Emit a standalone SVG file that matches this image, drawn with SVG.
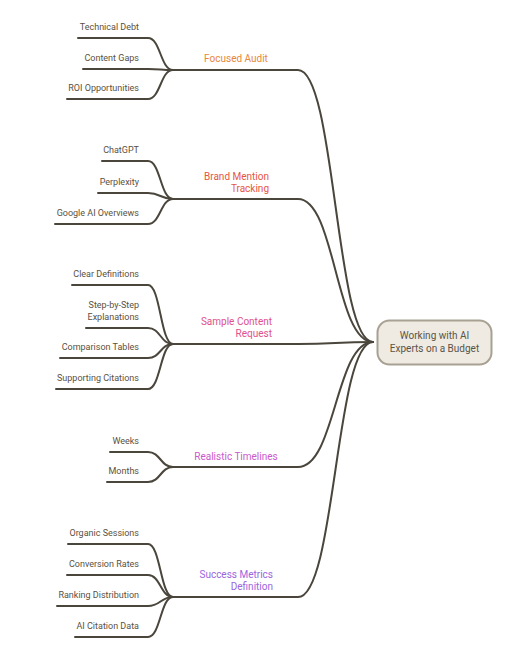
<svg xmlns="http://www.w3.org/2000/svg" width="528" height="668" viewBox="0 0 528 668">
<style>
.ln{fill:none;stroke:#4a463c;stroke-width:2;stroke-linecap:round}
.lf{font-family:Roboto,"Liberation Sans",sans-serif;font-size:9px;fill:#5a5142;text-anchor:end}
.l1{font-family:Roboto,"Liberation Sans",sans-serif;font-size:10px}
.rt{font-family:Roboto,"Liberation Sans",sans-serif;font-size:10px;fill:#5a5448;text-anchor:middle}
</style>
<rect width="528" height="668" fill="#ffffff"/>
<g id="connectors">
<!-- level 1 to root -->
<path class="ln" d="M173 70 H298 C335.5 70 335.5 342 373 342"/>
<path class="ln" d="M173 199 H298 C335.5 199 335.5 342 373 342"/>
<path class="ln" d="M173 344 H298 C335.5 344 335.5 342 373 342"/>
<path class="ln" d="M173 467 H298 C335.5 467 335.5 342 373 342"/>
<path class="ln" d="M173 597 H298 C335.5 597 335.5 342 373 342"/>
<!-- Focused Audit leaves -->
<path class="ln" d="M78 38 H148 C160.5 38 160.5 70 173 70"/>
<path class="ln" d="M83 69 H148 C160.5 69 160.5 70 173 70"/>
<path class="ln" d="M67 99 H148 C160.5 99 160.5 70 173 70"/>
<!-- Brand Mention leaves -->
<path class="ln" d="M102 161 H148 C160.5 161 160.5 199 173 199"/>
<path class="ln" d="M98 193 H148 C160.5 193 160.5 199 173 199"/>
<path class="ln" d="M55 224 H148 C160.5 224 160.5 199 173 199"/>
<!-- Sample Content leaves -->
<path class="ln" d="M72 285 H148 C160.5 285 160.5 344 173 344"/>
<path class="ln" d="M86 328 H148 C160.5 328 160.5 344 173 344"/>
<path class="ln" d="M60 358 H148 C160.5 358 160.5 344 173 344"/>
<path class="ln" d="M56 389 H148 C160.5 389 160.5 344 173 344"/>
<!-- Timelines leaves -->
<path class="ln" d="M110 452 H148 C160.5 452 160.5 467 173 467"/>
<path class="ln" d="M107 482 H148 C160.5 482 160.5 467 173 467"/>
<!-- Success metrics leaves -->
<path class="ln" d="M68 544 H148 C160.5 544 160.5 597 173 597"/>
<path class="ln" d="M67 575 H148 C160.5 575 160.5 597 173 597"/>
<path class="ln" d="M57 606 H148 C160.5 606 160.5 597 173 597"/>
<path class="ln" d="M75 637 H148 C160.5 637 160.5 597 173 597"/>
</g>
<g id="root">
<rect x="377.5" y="320.5" width="114" height="44" rx="12" fill="#efebe2" stroke="#a8a193" stroke-width="2"/>
<text class="rt" x="434.5" y="339">Working with AI</text>
<text class="rt" x="434.5" y="351.5">Experts on a Budget</text>
</g>
<g id="focused-audit"><text class="l1" x="236" y="61.5" fill="#e8873a" text-anchor="middle">Focused Audit</text></g>
<g id="brand-mention"><text class="l1" x="269" y="179.5" fill="#e8553f" text-anchor="end">Brand Mention</text><text class="l1" x="269" y="191.5" fill="#e8553f" text-anchor="end">Tracking</text></g>
<g id="sample-content"><text class="l1" x="272" y="324.5" fill="#e0508c" text-anchor="end">Sample Content</text><text class="l1" x="272" y="336.5" fill="#e0508c" text-anchor="end">Request</text></g>
<g id="realistic-timelines"><text class="l1" x="236" y="459.5" fill="#cc58cc" text-anchor="middle">Realistic Timelines</text></g>
<g id="success-metrics"><text class="l1" x="273" y="578" fill="#9966dd" text-anchor="end">Success Metrics</text><text class="l1" x="273" y="590" fill="#9966dd" text-anchor="end">Definition</text></g>
<g id="technical-debt"><text class="lf" x="139" y="29.5">Technical Debt</text></g>
<g id="content-gaps"><text class="lf" x="139" y="60.5">Content Gaps</text></g>
<g id="roi"><text class="lf" x="139" y="90.5">ROI Opportunities</text></g>
<g id="chatgpt"><text class="lf" x="139" y="152.5">ChatGPT</text></g>
<g id="perplexity"><text class="lf" x="139" y="184.5">Perplexity</text></g>
<g id="google-ai"><text class="lf" x="139" y="215.5">Google AI Overviews</text></g>
<g id="clear-definitions"><text class="lf" x="139" y="276.5">Clear Definitions</text></g>
<g id="step-by-step"><text class="lf" x="139" y="308">Step-by-Step</text><text class="lf" x="139" y="319.5">Explanations</text></g>
<g id="comparison-tables"><text class="lf" x="139" y="349.5">Comparison Tables</text></g>
<g id="supporting-citations"><text class="lf" x="139" y="380.5">Supporting Citations</text></g>
<g id="weeks"><text class="lf" x="139" y="443.5">Weeks</text></g>
<g id="months"><text class="lf" x="139" y="473.5">Months</text></g>
<g id="organic-sessions"><text class="lf" x="139" y="535.5">Organic Sessions</text></g>
<g id="conversion-rates"><text class="lf" x="139" y="566.5">Conversion Rates</text></g>
<g id="ranking-distribution"><text class="lf" x="139" y="597.5">Ranking Distribution</text></g>
<g id="ai-citation"><text class="lf" x="139" y="628.5">AI Citation Data</text></g>
</svg>
